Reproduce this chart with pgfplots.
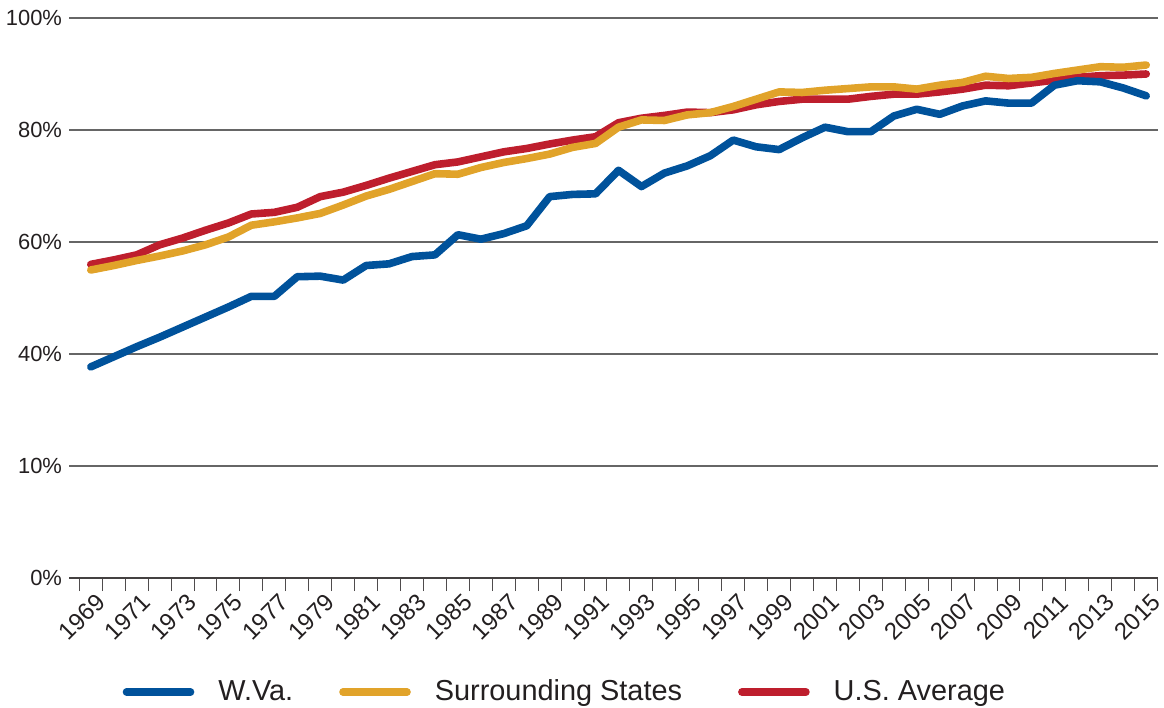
\documentclass[border=0pt]{standalone}
\usepackage{fontspec}
\setmainfont{Liberation Sans}
\usepackage{pgfplots}
\pgfplotsset{compat=1.18}

\definecolor{wvblue}{HTML}{00529B}
\definecolor{surrgold}{HTML}{E1A32A}
\definecolor{usred}{HTML}{BE1E2D}
\definecolor{txt}{HTML}{231F20}

\begin{document}
\begin{tikzpicture}
  \begin{axis}[
      name=ax,
      scale only axis,
      width=544.35bp,
      height=280bp,
      xmin=1968.05, xmax=2015.5,
      ymin=0, ymax=100,
      axis x line*=bottom,
      axis y line*=left,
      x axis line style={-, line width=1bp, color=txt!85},
      y axis line style={draw=none},
      ytick={0,20,40,60,80,100},
      yticklabels={0\%,10\%,40\%,60\%,80\%,100\%},
      ymajorgrids,
      major grid style={line width=0.6bp, color=black!60},
      ytick style={draw=none},
      xtick={1969,1971,...,2015},
      minor xtick={1968.5,1969.5,...,2015.5},
      major tick length=0pt,
      minor tick length=6.5bp,
      tick align=outside,
      every minor tick/.append style={line width=0.5bp, draw=txt!80},
      tick label style={font=\fontsize{11}{13}\selectfont, color=txt},
      x tick label style={font=\fontsize{12}{14}\selectfont, inner sep=0pt,
        /pgf/number format/1000 sep={},
        /pgf/number format/assume math mode=true,
        xshift=-4.5bp, yshift=-19.5bp, rotate=45, anchor=center},
      legend columns=3,
      reverse legend,
      legend style={at={(0.049,-0.2036)}, anchor=west, draw=none, inner sep=0pt,
        font=\fontsize{14.5}{17}\selectfont, text=txt,
        /tikz/every odd column/.append style={column sep=10bp},
        /tikz/every even column/.append style={column sep=21bp}},
      legend image code/.code={\draw[#1, line cap=round] (0bp,0bp) -- (32bp,0bp);},
      every axis plot/.append style={line width=3.8bp, line join=round, line cap=round},
    ]
    \addplot[usred] coordinates {
      (1969,56.0) (1970,56.8) (1971,57.7) (1972,59.5) (1973,60.7) (1974,62.1)
      (1975,63.4) (1976,65.0) (1977,65.3) (1978,66.2) (1979,68.1) (1980,68.9)
      (1981,70.1) (1982,71.4) (1983,72.6) (1984,73.8) (1985,74.3) (1986,75.2)
      (1987,76.1) (1988,76.7) (1989,77.5) (1990,78.2) (1991,78.8) (1992,81.3)
      (1993,82.1) (1994,82.6) (1995,83.2) (1996,83.1) (1997,83.6) (1998,84.5)
      (1999,85.1) (2000,85.5) (2001,85.5) (2002,85.5) (2003,86.0) (2004,86.4)
      (2005,86.4) (2006,86.8) (2007,87.3) (2008,88.0) (2009,87.9) (2010,88.4)
      (2011,88.9) (2012,89.4) (2013,89.7) (2014,89.8) (2015,90.0)
    };
    \addlegendentry{U.S. Average}
    \addplot[surrgold] coordinates {
      (1969,55.0) (1970,55.8) (1971,56.7) (1972,57.5) (1973,58.4) (1974,59.5)
      (1975,60.9) (1976,63.0) (1977,63.6) (1978,64.3) (1979,65.1) (1980,66.6)
      (1981,68.2) (1982,69.4) (1983,70.8) (1984,72.2) (1985,72.1) (1986,73.3)
      (1987,74.2) (1988,74.9) (1989,75.7) (1990,76.9) (1991,77.6) (1992,80.5)
      (1993,81.8) (1994,81.7) (1995,82.7) (1996,83.1) (1997,84.2) (1998,85.5)
      (1999,86.8) (2000,86.7) (2001,87.1) (2002,87.4) (2003,87.7) (2004,87.7)
      (2005,87.3) (2006,88.0) (2007,88.5) (2008,89.6) (2009,89.2) (2010,89.4)
      (2011,90.1) (2012,90.7) (2013,91.3) (2014,91.2) (2015,91.6)
    };
    \addlegendentry{Surrounding States\rule{5bp}{0pt}}
    \addplot[wvblue] coordinates {
      (1969,37.7) (1970,39.5) (1971,41.3) (1972,43.0) (1973,44.8) (1974,46.6)
      (1975,48.4) (1976,50.3) (1977,50.3) (1978,53.8) (1979,53.9) (1980,53.2)
      (1981,55.8) (1982,56.1) (1983,57.4) (1984,57.7) (1985,61.3) (1986,60.5)
      (1987,61.5) (1988,62.9) (1989,68.1) (1990,68.5) (1991,68.6) (1992,72.8)
      (1993,69.9) (1994,72.3) (1995,73.6) (1996,75.4) (1997,78.2) (1998,77.0)
      (1999,76.5) (2000,78.6) (2001,80.5) (2002,79.7) (2003,79.7) (2004,82.5)
      (2005,83.7) (2006,82.8) (2007,84.3) (2008,85.2) (2009,84.8) (2010,84.8)
      (2011,88.0) (2012,88.8) (2013,88.6) (2014,87.5) (2015,86.1)
    };
    \addlegendentry{W.Va.}
  \end{axis}
  \pgfresetboundingbox
  \path ([shift={(-34.5bp,-65bp)}]ax.south west) rectangle ([shift={(3.15bp,9bp)}]ax.north east);
\end{tikzpicture}
\end{document}
